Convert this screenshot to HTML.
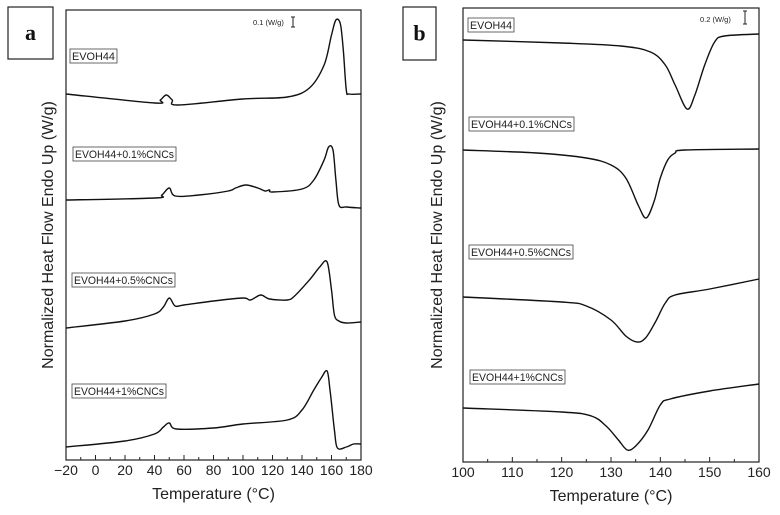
<!DOCTYPE html>
<html><head><meta charset="utf-8"><style>
html,body{margin:0;padding:0;background:#fff;}
svg{display:block;font-family:"Liberation Sans",sans-serif;}
</style></head><body>
<svg id="chart" width="780" height="515" viewBox="0 0 780 515"></svg>
<script>
// Panel a data (temperature °C, normalized heat flow arbitrary units, offset stacked)
const aT1=[-20,40,44,48,52,56,100,130,145,155,160,163,166,168,170,172,180];
const aH1=[366,357,360,365,360,355,361,363,372,395,425,440,436,410,370,366,366];
const aT2=[-20,40,45,50,54,70,90,95,102,110,115,118,120,140,148,155,158,161,163,165,170,180];
const aH2=[260,262,265,272,264,265,269,272,275,272,269,270,268,271,280,300,313,310,280,255,253,252];
const aT3=[-20,20,40,46,50,54,60,80,100,105,112,118,130,135,145,152,157,160,162,165,170,180];
const aH3=[132,139,146,153,162,154,155,159,162,160,165,161,160,164,180,193,198,170,145,139,137,138];
const aT4=[-20,20,40,46,50,55,80,100,130,140,148,153,157,159,162,164,170,175,180];
const aH4=[13,19,26,33,37,31,32,36,40,50,70,82,89,70,30,12,13,16,16];
const aTicks=[-20,0,20,40,60,80,100,120,140,160,180];
const aLabels=["EVOH44","EVOH44+0.1%CNCs","EVOH44+0.5%CNCs","EVOH44+1%CNCs"];
// Panel b data
const bT1=[100,120,132,138,141,143,145.4,147,149,151,153,160];
const bH1=[422,419,416,410,397,377,353,367,397,420,426,428];
const bT2=[100,115,125,130,133,135.5,137.1,138.7,140,141.5,143,145,160];
const bH2=[312,309,304,297,284,257,244,260,284,302,309,312,313];
const bT3=[100,120,125,130,133,135.3,137,139,141,143,150,160];
const bH3=[165,160,156,142,126,120,124,140,159,167,173,183];
const bT4=[100,120,126,129,131.5,133.3,135,137.5,140,142,150,160];
const bH4=[54,50,46,36,22,12,16,32,57,63,71,78];
const bTicks=[100,110,120,130,140,150,160];

const NS="http://www.w3.org/2000/svg";
const svg=document.getElementById('chart');
function mk(tag,attrs,parent){const e=document.createElementNS(NS,tag);for(const k in attrs)e.setAttribute(k,attrs[k]);(parent||svg).appendChild(e);return e;}
function crPath(pts){let d="M"+pts[0][0].toFixed(1)+","+pts[0][1].toFixed(1);
 for(let i=0;i<pts.length-1;i++){const p0=pts[Math.max(0,i-1)],p1=pts[i],p2=pts[i+1],p3=pts[Math.min(pts.length-1,i+2)];
  const c1=[p1[0]+(p2[0]-p0[0])/6,p1[1]+(p2[1]-p0[1])/6],c2=[p2[0]-(p3[0]-p1[0])/6,p2[1]-(p3[1]-p1[1])/6];
  d+="C"+c1[0].toFixed(1)+","+c1[1].toFixed(1)+" "+c2[0].toFixed(1)+","+c2[1].toFixed(1)+" "+p2[0].toFixed(1)+","+p2[1].toFixed(1);}
 return d;}

function panel(cfg){
 const {x0,x1,y0,y1,tmin,tmax,ticks,minorStep,series,labels,labelBoxes,letter,letterBox,scaleText,scaleX,scaleY,bar,ytitleX,prefix}=cfg;
 const xs=t=>x0+(t-tmin)/(tmax-tmin)*(x1-x0);
 const ys=h=>y1-h;
 const g=mk('g',{});
 
 
 const frame=mk('rect',{x:x0,y:y0,width:x1-x0,height:y1-y0,fill:'none',stroke:'#222','stroke-width':1.2},g);
 
 
 for(let t=tmin;t<=tmax+1e-6;t+=minorStep){
  const major=ticks.indexOf(t)>=0;
  const tk=mk('line',{x1:xs(t),x2:xs(t),y1:y1,y2:y1-(major?5:3),stroke:'#222','stroke-width':1},g);
  
  
 }
 ticks.forEach(t=>{const tl=mk('text',{x:xs(t),y:y1+15,'text-anchor':'middle','font-size':14,fill:'#222'},g);tl.textContent=t<0?"\u2212"+(-t):t;
  
  });
 const xt=mk('text',{x:(x0+x1)/2,y:y1+39,'text-anchor':'middle','font-size':16,fill:'#222'},g);xt.textContent="Temperature (\u00B0C)";
 
 
 const yt=mk('text',{x:ytitleX,y:(y0+y1)/2,'text-anchor':'middle','font-size':16,fill:'#222',transform:`rotate(-90 ${ytitleX} ${(y0+y1)/2})`},g);yt.textContent="Normalized Heat Flow Endo Up (W/g)";
 
 
 series.forEach((s,i)=>{const pts=s[0].map((t,j)=>[xs(t),ys(s[1][j])]);
  const p=mk('path',{d:crPath(pts),fill:'none',stroke:'#111','stroke-width':1.4},g);
  
  });
 labels.forEach((l,i)=>{const b=labelBoxes[i];
  const r=mk('rect',{x:b[0],y:b[1],width:b[2],height:14,fill:'#fff',stroke:'#444','stroke-width':0.8},g);
  
  
  const tx=mk('text',{x:b[0]+2,y:b[1]+11,'font-size':11,fill:'#222',textLength:b[2]-4,lengthAdjust:'spacingAndGlyphs'},g);tx.textContent=l;
  
  });
 const lb=mk('rect',{x:letterBox[0],y:letterBox[1],width:letterBox[2],height:letterBox[3],fill:'#fff',stroke:'#222','stroke-width':1.2},g);
 
 
 const lt=mk('text',{x:letterBox[0]+letterBox[2]/2,y:letterBox[1]+letterBox[3]/2+7,'text-anchor':'middle','font-size':22,'font-weight':'bold','font-family':'Liberation Serif, serif',fill:'#111'},g);lt.textContent=letter;
 
 
 const st=mk('text',{x:scaleX,y:scaleY,'font-size':7.5,fill:'#222'},g);st.textContent=scaleText;
 
 
 const sb=mk('path',{d:`M${bar[0]-2},${bar[1]}H${bar[0]+2}M${bar[0]},${bar[1]}V${bar[2]}M${bar[0]-2},${bar[2]}H${bar[0]+2}`,stroke:'#222','stroke-width':1,fill:'none'},g);
 
 
}

panel({prefix:'a',x0:66,x1:361,y0:10,y1:460,tmin:-20,tmax:180,ticks:aTicks,minorStep:10,
 series:[[aT1,aH1],[aT2,aH2],[aT3,aH3],[aT4,aH4]],labels:aLabels,
 labelBoxes:[[70,49,47],[73,147,103],[72,273,103],[72,384,94]],
 letter:'a',letterBox:[8,7,45,52],scaleText:'0.1 (W/g)',scaleX:253,scaleY:25,bar:[293,17,27],ytitleX:53});
panel({prefix:'b',x0:463,x1:759,y0:8,y1:462,tmin:100,tmax:160,ticks:bTicks,minorStep:5,
 series:[[bT1,bH1],[bT2,bH2],[bT3,bH3],[bT4,bH4]],labels:aLabels,
 labelBoxes:[[468,18,46],[469,117,105],[469,245,104],[470,370,95]],
 letter:'b',letterBox:[403,7,33,53],scaleText:'0.2 (W/g)',scaleX:700,scaleY:22,bar:[745,11,24],ytitleX:442});
</script>
</body></html>
